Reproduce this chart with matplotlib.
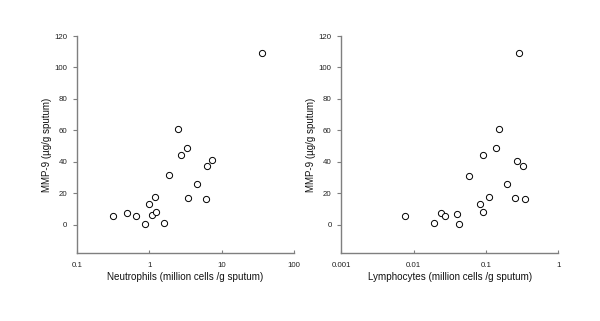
import matplotlib
matplotlib.use("Agg")
import matplotlib.pyplot as plt
from matplotlib.ticker import FixedLocator, FixedFormatter, NullLocator

plt.rcParams['font.family'] = ['Liberation Sans', 'DejaVu Sans']

neut_x = [0.31, 0.49, 0.66, 0.87, 0.99, 1.10, 1.20, 1.24, 1.60, 1.88,
          2.50, 2.78, 3.37, 3.44, 4.63, 5.98, 6.31, 7.40, 35.6]
neut_y = [5.7, 7.6, 5.3, 0.4, 13.3, 6.4, 17.4, 8.3, 1.1, 31.4,
          60.8, 44.1, 48.5, 17.2, 26.1, 16.3, 37.1, 40.9, 109.3]

lymph_x = [0.00759, 0.0189, 0.0236, 0.0271, 0.0402, 0.0428, 0.0582, 0.0826,
           0.0900, 0.0919, 0.109, 0.139, 0.151, 0.193, 0.252, 0.266, 0.286,
           0.325, 0.350]
lymph_y = [5.3, 1.1, 7.6, 5.7, 6.6, 0.6, 31.1, 13.3, 44.1, 8.3, 17.4,
           48.5, 60.8, 26.1, 17.2, 40.7, 109.3, 37.1, 16.5]

y_ticks = [0, 20, 40, 60, 80, 100, 120]
neut_ticks = [0.1, 1, 10, 100]
neut_labels = ['0.1', '1', '10', '100']
lymph_ticks = [0.001, 0.01, 0.1, 1]
lymph_labels = ['0.001', '0.01', '0.1', '1']

ylabel = 'MMP-9 (\u00b5g/g sputum)'
xlabels = ['Neutrophils (million cells /g sputum)',
           'Lymphocytes (million cells /g sputum)']

fig = plt.figure(figsize=(6.0, 3.21), dpi=100)
spine_col = '#7f7f7f'

panels = [
    (0.1283, neut_x, neut_y, neut_ticks, neut_labels, (0.1, 100), xlabels[0]),
    (0.5690, lymph_x, lymph_y, lymph_ticks, lymph_labels, (0.001, 1), xlabels[1]),
]

for left, xs, ys, ticks, labels, xlim, xl in panels:
    ax = fig.add_axes([left, 0.2118, 0.3617, 0.676])
    ax.scatter(xs, ys, s=20, facecolors='white', edgecolors='black',
               linewidths=0.7, zorder=3, clip_on=False)
    ax.set_xscale('log')
    ax.set_xlim(*xlim)
    ax.set_ylim(-18, 120)
    ax.xaxis.set_major_locator(FixedLocator(ticks))
    ax.xaxis.set_major_formatter(FixedFormatter(labels))
    ax.xaxis.set_minor_locator(NullLocator())
    ax.set_yticks(y_ticks)
    for s in ['top', 'right']:
        ax.spines[s].set_visible(False)
    for s in ['left', 'bottom']:
        ax.spines[s].set_color(spine_col)
        ax.spines[s].set_linewidth(1.0)
    ax.tick_params(axis='both', colors=spine_col, labelcolor='#222222',
                   labelsize=5.7, width=0.8)
    ax.tick_params(axis='y', direction='out', length=2.8, pad=4.3)
    ax.tick_params(axis='x', direction='in', length=2.0, pad=6.5)
    ax.set_xlabel(xl, fontsize=7.1, color='#111111')
    ax.set_ylabel(ylabel, fontsize=7.0, color='#111111')
    ax.xaxis.set_label_coords(0.5, -0.088)
    ax.yaxis.set_label_coords(-0.115, 0.5)

fig.savefig('out.png', dpi=100, facecolor='white')
